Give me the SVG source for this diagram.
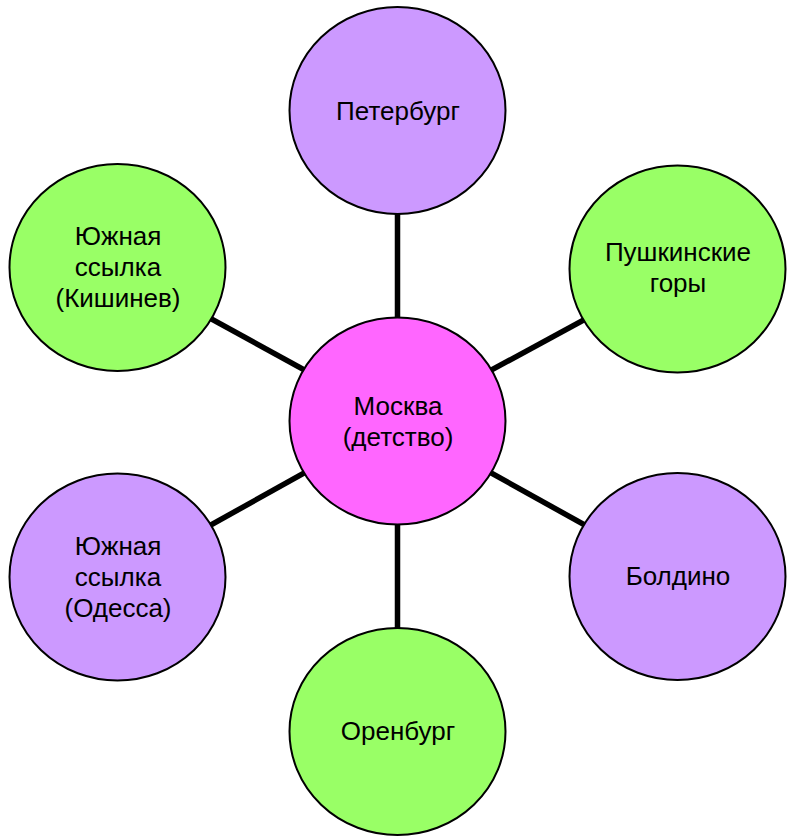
<svg xmlns="http://www.w3.org/2000/svg" width="789" height="836" viewBox="0 0 789 836">
<style>
.n{stroke:#000;stroke-width:2}
.p{fill:#CC99FF}
.g{fill:#99FF66}
.m{fill:#FF66FF}
.t{font-family:"Liberation Sans",Arial,sans-serif;font-size:26px;fill:#000;text-anchor:middle}
.c line{stroke:#000;stroke-width:5.5}
</style>
<rect width="789" height="836" fill="#fff"/>
<g id="connectors" class="c">
<line x1="397.5" y1="421" x2="397.5" y2="110.5"/>
<line x1="397.5" y1="421" x2="397.5" y2="731.5"/>
<line x1="397.5" y1="421" x2="117.5" y2="267.5"/>
<line x1="397.5" y1="421" x2="677.5" y2="269"/>
<line x1="397.5" y1="421" x2="117.5" y2="577"/>
<line x1="397.5" y1="421" x2="677.5" y2="576.5"/>
</g>
<g id="peterburg"><ellipse class="n p" cx="397.5" cy="110.5" rx="108" ry="103.5"/><text class="t" x="398" y="120">Петербург</text></g>
<g id="kishinev"><ellipse class="n g" cx="117.5" cy="267.5" rx="108" ry="103.5"/><text class="t" x="118" y="245">Южная</text><text class="t" x="118" y="276">ссылка</text><text class="t" x="118" y="307">(Кишинев)</text></g>
<g id="pushkinskie"><ellipse class="n g" cx="677.5" cy="269" rx="108" ry="103.5"/><text class="t" x="678" y="261">Пушкинские</text><text class="t" x="678" y="292">горы</text></g>
<g id="moskva"><ellipse class="n m" cx="397.5" cy="421" rx="108" ry="103.5"/><text class="t" x="398" y="415">Москва</text><text class="t" x="398" y="446">(детство)</text></g>
<g id="odessa"><ellipse class="n p" cx="117.5" cy="577" rx="108" ry="103.5"/><text class="t" x="118" y="555">Южная</text><text class="t" x="118" y="586">ссылка</text><text class="t" x="118" y="617">(Одесса)</text></g>
<g id="boldino"><ellipse class="n p" cx="677.5" cy="576.5" rx="108" ry="103.5"/><text class="t" x="678" y="585">Болдино</text></g>
<g id="orenburg"><ellipse class="n g" cx="397.5" cy="731.5" rx="108" ry="103.5"/><text class="t" x="398" y="740">Оренбург</text></g>
</svg>
